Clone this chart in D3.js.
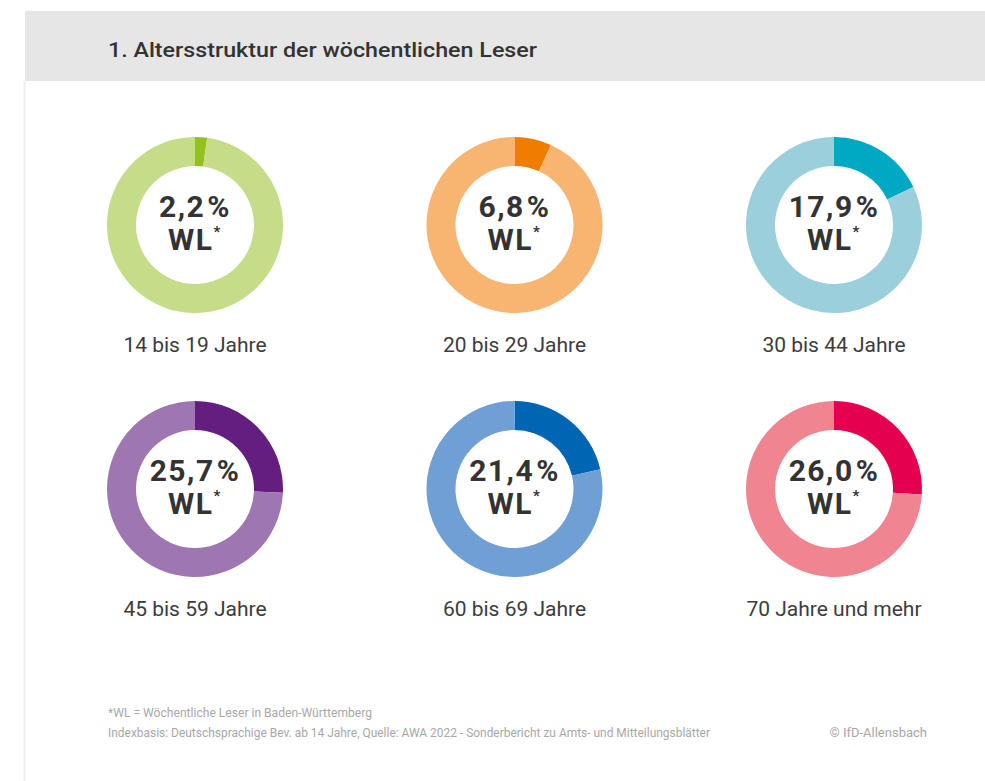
<!DOCTYPE html>
<html>
<head>
<meta charset="utf-8">
<script src="https://cdn.jsdelivr.net/npm/d3@7"></script>
<style>
  body { margin: 0; background: #fff; }
  svg { display: block; }
  .title { font-family: Roboto, "Noto Sans", sans-serif; font-size: 21px; font-weight: 500; fill: #333; }
  .pct { font-family: Roboto, "Noto Sans", sans-serif; font-weight: bold; font-size: 30px; letter-spacing: 1.5px; fill: #333; }
  .lbl { font-family: Roboto, "Noto Sans", sans-serif; font-size: 21px; fill: #3c3c3c; }
  .note { font-family: Roboto, "Noto Sans", sans-serif; font-size: 13px; fill: #a8a8a8; }
</style>
</head>
<body>
<svg id="chart" width="985" height="781"></svg>
<script>
// age groups and share of weekly readers (WL)
var groups = ["14 bis 19 Jahre", "20 bis 29 Jahre", "30 bis 44 Jahre",
              "45 bis 59 Jahre", "60 bis 69 Jahre", "70 Jahre und mehr"];
var values = [2.2, 6.8, 17.9, 25.7, 21.4, 26.0];
var darkColors  = ["#95c11f", "#ee7d00", "#00a9c3", "#641e80", "#0066b3", "#e4004f"];
var lightColors = ["#c5dc88", "#f8b571", "#9bcfdc", "#9d76b2", "#6f9fd4", "#f08591"];

var svg = d3.select("#chart");

// header band + left rule
svg.append("rect").attr("x", 25).attr("y", 11).attr("width", 960).attr("height", 70).attr("fill", "#e6e6e6");
svg.append("line").attr("x1", 24.5).attr("x2", 24.5).attr("y1", 81).attr("y2", 781)
    .attr("stroke", "#eeeeee").attr("stroke-width", 2);
svg.append("text").attr("class", "title").attr("x", 108).attr("y", 57)
    .attr("textLength", 429).attr("lengthAdjust", "spacingAndGlyphs")
    .text("1. Altersstruktur der wöchentlichen Leser");

// grid of donuts
var col = d3.scalePoint().domain([0, 1, 2]).range([195, 834]);
var row = d3.scalePoint().domain([0, 1]).range([225, 489]);

var pie = d3.pie().sort(null).value(d => d);
var arc = d3.arc().innerRadius(59).outerRadius(88);
var fmt = v => d3.format(".1f")(v).replace(".", ",");

groups.forEach(function(name, i) {
    var g = svg.append("g")
        .attr("transform", "translate(" + col(i % 3) + "," + row(Math.floor(i / 3)) + ")");

    g.selectAll("path")
        .data(pie([values[i], 100 - values[i]]))
        .enter()
        .append("path")
        .attr("d", arc)
        .attr("fill", (d, j) => j === 0 ? darkColors[i] : lightColors[i]);

    // value and "WL*" in one text block
    var t = g.append("text").attr("class", "pct").attr("text-anchor", "middle").attr("y", -8);
    t.append("tspan").text(fmt(values[i]));
    t.append("tspan").attr("dx", 2).text("%");
    t.append("tspan").attr("x", 0).attr("dy", 33).text("WL");
    t.append("tspan").attr("font-size", 15).attr("dy", -13).text("*");

    g.append("text").attr("class", "lbl").attr("text-anchor", "middle").attr("y", 127).text(name);
});

// footnotes
svg.append("text").attr("class", "note").attr("x", 108).attr("y", 717)
    .attr("textLength", 264).attr("lengthAdjust", "spacingAndGlyphs")
    .text("*WL = Wöchentliche Leser in Baden-Württemberg");
svg.append("text").attr("class", "note").attr("x", 108).attr("y", 737)
    .attr("textLength", 602).attr("lengthAdjust", "spacingAndGlyphs")
    .text("Indexbasis: Deutschsprachige Bev. ab 14 Jahre, Quelle: AWA 2022 - Sonderbericht zu Amts- und Mitteilungsblätter");
svg.append("text").attr("class", "note").attr("x", 927).attr("y", 737).attr("text-anchor", "end")
    .text("© IfD-Allensbach");
</script>
</body>
</html>
